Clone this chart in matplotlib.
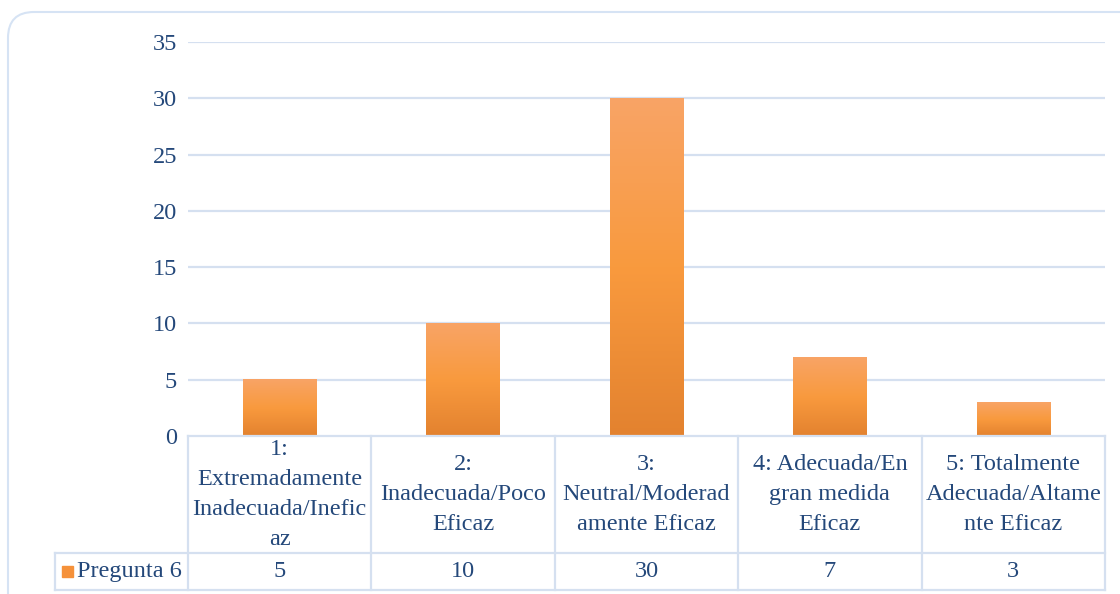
import matplotlib
matplotlib.use("Agg")
import matplotlib.pyplot as plt
import numpy as np
from matplotlib.patches import FancyBboxPatch, Rectangle
from matplotlib.colors import LinearSegmentedColormap
import matplotlib.transforms as mtransforms

categories = [
    "1:\nExtremadamente\nInadecuada/Inefic\naz",
    "2:\nInadecuada/Poco\nEficaz",
    "3:\nNeutral/Moderad\namente Eficaz",
    "4: Adecuada/En\ngran medida\nEficaz",
    "5: Totalmente\nAdecuada/Altame\nnte Eficaz",
]
values = [5, 10, 30, 7, 3]
series_name = "Pregunta 6"
yticks = [0, 5, 10, 15, 20, 25, 30, 35]

W, H = 1120, 594
plt.rcParams['font.family'] = ['Liberation Serif', 'DejaVu Serif']
TXT = '#24487A'
GRID = '#D5E0F0'
FS = 17.5

fig = plt.figure(figsize=(W / 100, H / 100), dpi=100)

def fx(px):
    return px / W

def fy(py):
    return 1 - py / H

ax = fig.add_axes([fx(188), fy(436), fx(1105) - fx(188), fy(42) - fy(436)])
ax.set_xlim(-0.5, len(values) - 0.5)
ax.set_ylim(0, 35)
for s in ax.spines.values():
    s.set_visible(False)
ax.set_xticks([])
ax.set_yticks(yticks)
ax.set_yticklabels([str(t) for t in yticks], fontsize=FS, color=TXT)
ax.tick_params(axis='y', length=0, pad=8)
for t in yticks[1:]:
    ax.axhline(t, color=GRID, lw=1.6, zorder=0)

cmap = LinearSegmentedColormap.from_list('g', ['#E3822F', '#F99A3E', '#F8A466'])
grad = np.linspace(0, 1, 256).reshape(-1, 1)
bw = 0.4
for i, v in enumerate(values):
    ax.imshow(grad, extent=[i - bw / 2, i + bw / 2, 0, v], origin='lower',
              cmap=cmap, aspect='auto', zorder=2, interpolation='bilinear')
ax.set_xlim(-0.5, len(values) - 0.5)
ax.set_ylim(0, 35)

# data table
tr = mtransforms.blended_transform_factory(ax.transData, fig.transFigure)
ytop, ymid, ybot = fy(436), fy(553), fy(590)
LW = 1.6
bounds = [i - 0.5 for i in range(len(values) + 1)]
for b in bounds:
    fig.add_artist(plt.Line2D([b, b], [ytop, ybot], transform=tr, color=GRID, lw=LW))
fig.add_artist(plt.Line2D([bounds[0], bounds[-1]], [ytop, ytop], transform=tr, color=GRID, lw=LW))
fig.add_artist(plt.Line2D([fx(55), fx(1105)], [ymid, ymid], transform=fig.transFigure, color=GRID, lw=LW))
fig.add_artist(plt.Line2D([fx(55), fx(1105)], [ybot, ybot], transform=fig.transFigure, color=GRID, lw=LW))
fig.add_artist(plt.Line2D([fx(55), fx(55)], [ymid, ybot], transform=fig.transFigure, color=GRID, lw=LW))

for i, (c, v) in enumerate(zip(categories, values)):
    fig.text(i, (ytop + ymid) / 2, c, transform=tr, ha='center', va='center',
             fontsize=FS, color=TXT, linespacing=1.55)
    fig.text(i, (ymid + ybot) / 2, str(v), transform=tr, ha='center', va='center',
             fontsize=FS, color=TXT)

# legend key
fig.add_artist(Rectangle((fx(62), fy(577)), fx(73) - fx(62), fy(566) - fy(577),
                         transform=fig.transFigure, color='#F5913A'))
fig.text(fx(77), (ymid + ybot) / 2, series_name, ha='left', va='center',
         fontsize=FS, color=TXT)

# outer rounded border
border = FancyBboxPatch((8, -30), 1160, 594 - 12 + 30,
                        boxstyle='round,pad=0,rounding_size=26',
                        transform=mtransforms.IdentityTransform(),
                        facecolor='none', edgecolor='#D6E3F4', lw=1.5)
fig.add_artist(border)

fig.savefig('out.png', dpi=100)
